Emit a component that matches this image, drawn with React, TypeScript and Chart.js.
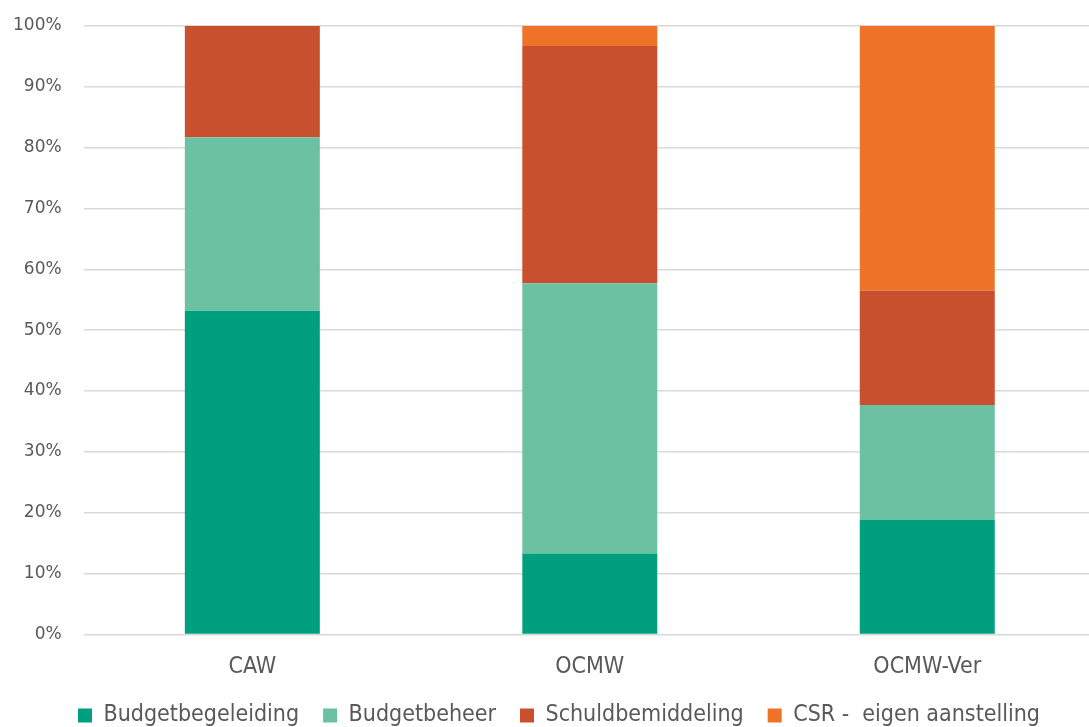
import React, { useEffect, useRef } from "react";
import { Chart, registerables } from "chart.js";

Chart.register(...registerables);

const categories = ["CAW", "OCMW", "OCMW-Ver"];
const budgetbegeleiding = [53.2, 13.3, 18.8];
const budgetbeheer = [28.5, 44.4, 18.9];
const schuldbemiddeling = [18.3, 39.0, 18.8];
const csrEigenAanstelling = [0, 3.3, 43.5];
const seriesNames = ["Budgetbegeleiding", "Budgetbeheer", "Schuldbemiddeling", "CSR -  eigen aanstelling"];
const seriesColors = ["#00A07F", "#6CC1A3", "#C8502E", "#EE7328"];
const yTicks = [0, 10, 20, 30, 40, 50, 60, 70, 80, 90, 100];

// Legend fine-tuning: shrink its reserved height, then nudge where it is drawn.
const LEGEND_HEIGHT_TRIM = 22;
const LEGEND_DX = 7;
const LEGEND_DY = -12;

const legendTweak = {
  id: "legendTweak",
  beforeLayout(chart: any) {
    const lg = chart.legend;
    if (lg && !lg.__patched) {
      const orig = lg.fit.bind(lg);
      lg.fit = function () {
        orig();
        this.height = Math.max(0, this.height - LEGEND_HEIGHT_TRIM);
      };
      lg.__patched = true;
    }
  },
  afterLayout(chart: any) {
    const lg = chart.legend;
    if (lg) {
      lg.left += LEGEND_DX;
      lg.right += LEGEND_DX;
      lg.top += LEGEND_DY;
      lg.bottom = chart.height;
    }
  },
};

export default function App() {
  const ref = useRef<HTMLCanvasElement | null>(null);

  useEffect(() => {
    if (!ref.current) return;
    const values = [budgetbegeleiding, budgetbeheer, schuldbemiddeling, csrEigenAanstelling];
    const chart = new Chart(ref.current, {
      type: "bar",
      data: {
        labels: categories,
        datasets: values.map((v, i) => ({
          label: seriesNames[i],
          data: v,
          backgroundColor: seriesColors[i],
          borderWidth: 0,
          barPercentage: 0.4,
          categoryPercentage: 1,
        })),
      },
      options: {
        animation: false,
        responsive: false,
        maintainAspectRatio: false,
        layout: { padding: { left: 8, right: 4, top: 26, bottom: 0 } },
        plugins: {
          tooltip: { enabled: false },
          legend: {
            position: "bottom",
            labels: {
              boxWidth: 14,
              boxHeight: 14,
              padding: 24,
              color: "#595959",
              font: { family: "'DejaVu Sans Condensed', 'DejaVu Sans'", size: 23 },
            },
          },
        },
        scales: {
          x: {
            stacked: true,
            grid: { display: false },
            border: { display: false },
            ticks: {
              color: "#595959",
              padding: 11,
              font: { family: "'DejaVu Sans Condensed', 'DejaVu Sans'", size: 23 },
            },
          },
          y: {
            stacked: true,
            min: 0,
            max: 100,
            afterBuildTicks: (s: any) => {
              s.ticks = yTicks.map((v) => ({ value: v }));
            },
            grid: {
              color: "#d9d9d9",
              lineWidth: 1.5,
              drawTicks: true,
              tickLength: 17,
              tickColor: "rgba(0,0,0,0)",
            },
            border: { display: false },
            ticks: {
              color: "#595959",
              padding: 5,
              font: { family: "'DejaVu Sans'", size: 17 },
              callback: (v: any) => v + "%",
            },
          },
        },
      },
      plugins: [legendTweak],
    });
    return () => chart.destroy();
  }, []);

  return (
    <div style={{ position: "fixed", left: 0, top: 0, width: 1089, height: 727, overflow: "hidden", background: "#fff" }}>
      <canvas ref={ref} width={1100} height={727} style={{ display: "block" }} />
    </div>
  );
}
